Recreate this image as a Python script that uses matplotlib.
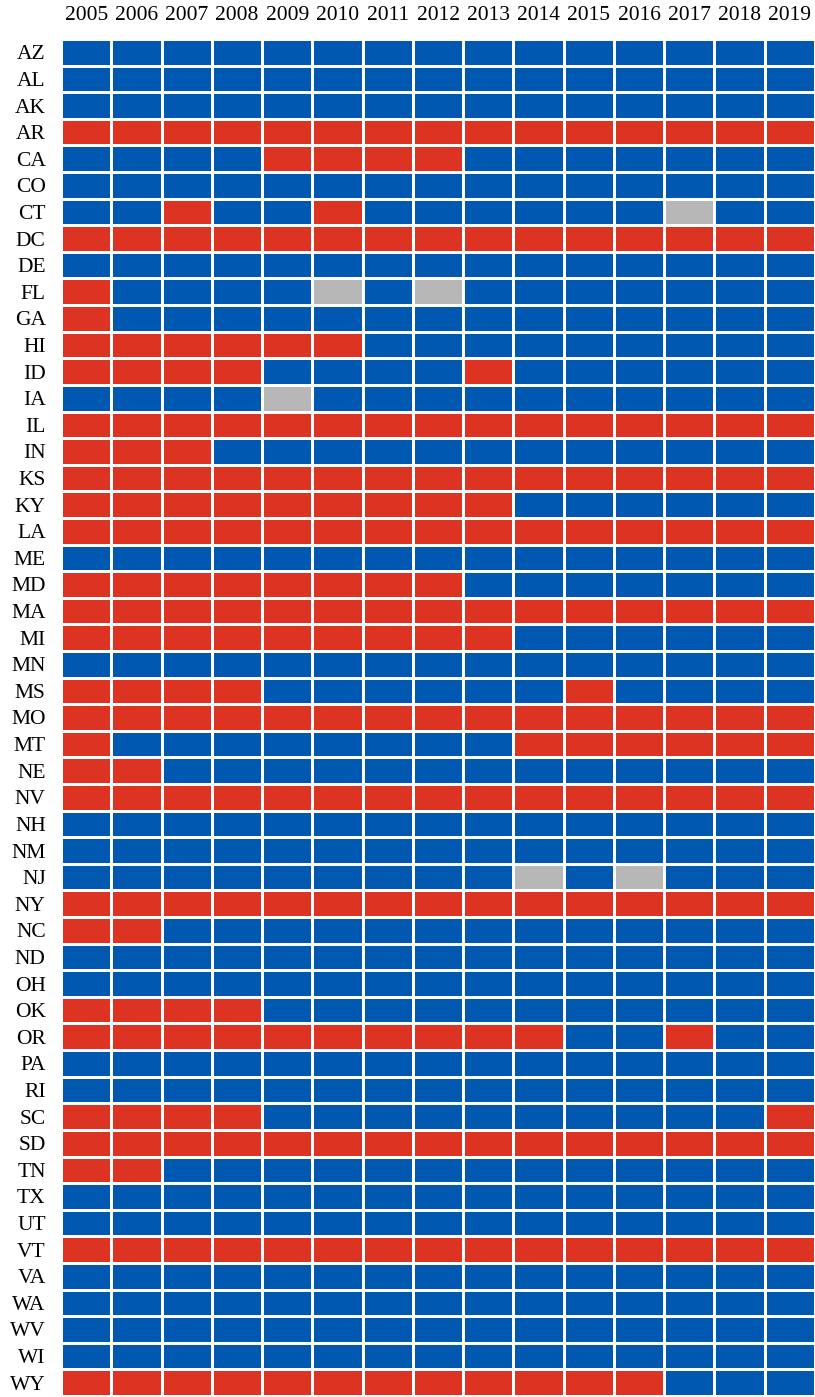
import numpy as np
import matplotlib
matplotlib.use("Agg")
import matplotlib.pyplot as plt
from matplotlib.colors import ListedColormap, BoundaryNorm

years = [str(y) for y in range(2005, 2020)]
states = ["AZ", "AL", "AK", "AR", "CA", "CO", "CT", "DC", "DE", "FL", "GA", "HI", "ID", "IA",
          "IL", "IN", "KS", "KY", "LA", "ME", "MD", "MA", "MI", "MN", "MS", "MO", "MT", "NE",
          "NV", "NH", "NM", "NJ", "NY", "NC", "ND", "OH", "OK", "OR", "PA", "RI", "SC", "SD",
          "TN", "TX", "UT", "VT", "VA", "WA", "WV", "WI", "WY"]

# 0 = blue, 1 = red, 2 = gray (missing)
AZ = [0]*15
AL = [0]*15
AK = [0]*15
AR = [1]*15
CA = [0,0,0,0,1,1,1,1,0,0,0,0,0,0,0]
CO = [0]*15
CT = [0,0,1,0,0,1,0,0,0,0,0,0,2,0,0]
DC = [1]*15
DE = [0]*15
FL = [1,0,0,0,0,2,0,2,0,0,0,0,0,0,0]
GA = [1,0,0,0,0,0,0,0,0,0,0,0,0,0,0]
HI = [1,1,1,1,1,1,0,0,0,0,0,0,0,0,0]
ID = [1,1,1,1,0,0,0,0,1,0,0,0,0,0,0]
IA = [0,0,0,0,2,0,0,0,0,0,0,0,0,0,0]
IL = [1]*15
IN = [1,1,1,0,0,0,0,0,0,0,0,0,0,0,0]
KS = [1]*15
KY = [1,1,1,1,1,1,1,1,1,0,0,0,0,0,0]
LA = [1]*15
ME = [0]*15
MD = [1,1,1,1,1,1,1,1,0,0,0,0,0,0,0]
MA = [1]*15
MI = [1,1,1,1,1,1,1,1,1,0,0,0,0,0,0]
MN = [0]*15
MS = [1,1,1,1,0,0,0,0,0,0,1,0,0,0,0]
MO = [1]*15
MT = [1,0,0,0,0,0,0,0,0,1,1,1,1,1,1]
NE = [1,1,0,0,0,0,0,0,0,0,0,0,0,0,0]
NV = [1]*15
NH = [0]*15
NM = [0]*15
NJ = [0,0,0,0,0,0,0,0,0,2,0,2,0,0,0]
NY = [1]*15
NC = [1,1,0,0,0,0,0,0,0,0,0,0,0,0,0]
ND = [0]*15
OH = [0]*15
OK = [1,1,1,1,0,0,0,0,0,0,0,0,0,0,0]
OR = [1,1,1,1,1,1,1,1,1,1,0,0,1,0,0]
PA = [0]*15
RI = [0]*15
SC = [1,1,1,1,0,0,0,0,0,0,0,0,0,0,1]
SD = [1]*15
TN = [1,1,0,0,0,0,0,0,0,0,0,0,0,0,0]
TX = [0]*15
UT = [0]*15
VT = [1]*15
VA = [0]*15
WA = [0]*15
WV = [0]*15
WI = [0]*15
WY = [1,1,1,1,1,1,1,1,1,1,1,1,0,0,0]

rows = [AZ, AL, AK, AR, CA, CO, CT, DC, DE, FL, GA, HI, ID, IA, IL, IN, KS, KY, LA, ME,
        MD, MA, MI, MN, MS, MO, MT, NE, NV, NH, NM, NJ, NY, NC, ND, OH, OK, OR, PA, RI,
        SC, SD, TN, TX, UT, VT, VA, WA, WV, WI, WY]
data = np.array(rows)

plt.rcParams['font.family'] = ['Liberation Serif', 'DejaVu Serif']

W, H = 815, 1397
fig = plt.figure(figsize=(W/100, H/100), dpi=100)
ax = fig.add_axes([61/W, 1 - 1396/H, (W - 61)/W, (1396 - 39)/H])

cmap = ListedColormap(["#0058b0", "#dc3323", "#b7b7b7"])
norm = BoundaryNorm([-0.5, 0.5, 1.5, 2.5], cmap.N)
ax.pcolormesh(np.arange(len(years) + 1), np.arange(len(states) + 1), data,
              cmap=cmap, norm=norm, edgecolors="white", linewidth=0.8)
ax.set_xlim(0, len(years))
ax.set_ylim(len(states), 0)

ax.set_xticks(np.arange(len(years)) + 0.5)
ax.set_xticklabels(years, fontsize=15.5)
ax.set_yticks(np.arange(len(states)) + 0.5)
ax.set_yticklabels(states, fontsize=15.5)
ax.xaxis.tick_top()
ax.tick_params(axis="x", length=0, pad=10)
ax.tick_params(axis="y", length=0, pad=11)
for s in ax.spines.values():
    s.set_visible(False)

fig.savefig("out.png", dpi=100)
